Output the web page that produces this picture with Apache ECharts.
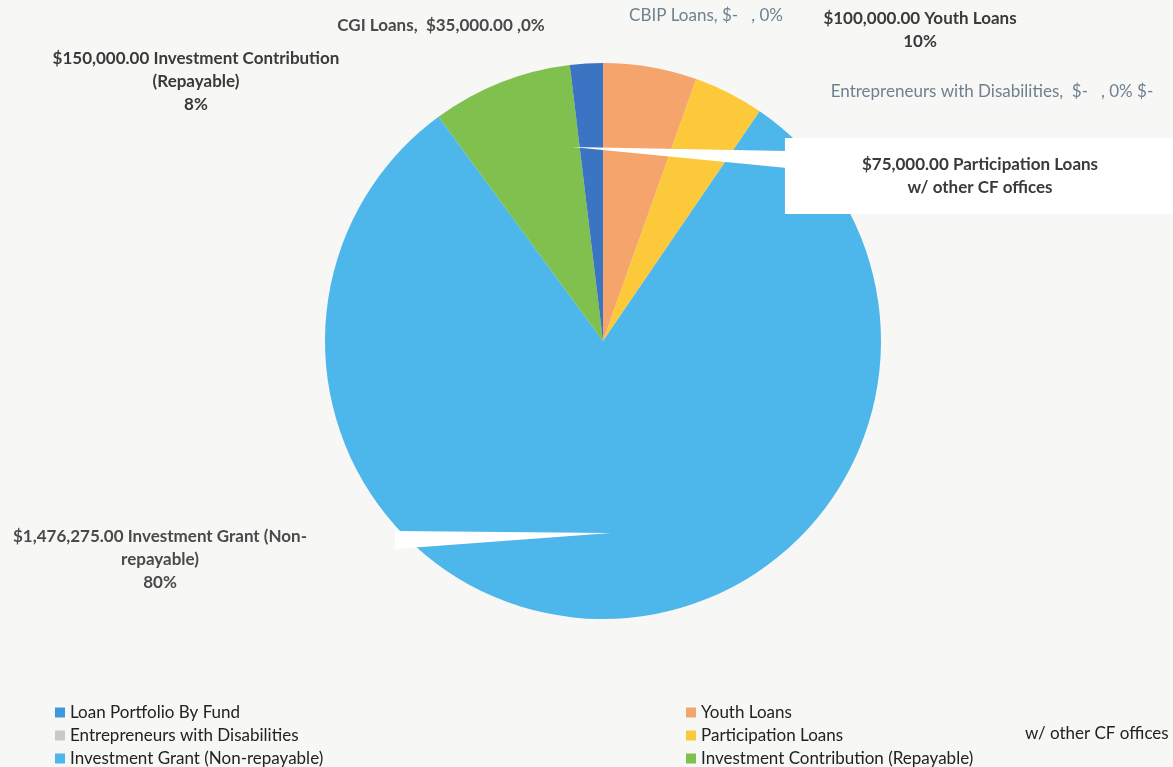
<!DOCTYPE html>
<html><head><meta charset="utf-8">
<script src="https://cdn.jsdelivr.net/npm/echarts@6/dist/echarts.min.js"></script>
<style>html,body{margin:0;padding:0;background:#f7f7f5}#c{width:1173px;height:767px}</style>
</head><body><div id="c"></div>
<script>
// ---- data ----
const categories = ['Youth Loans','Entrepreneurs with Disabilities','Participation Loans','Investment Grant (Non-repayable)','Investment Contribution (Repayable)','CGI Loans','CBIP Loans','Loan Portfolio By Fund'];
const values = [100000, 0, 75000, 1476275, 150000, 35000, 0, 0];
const pctLabels = ['10%','0%','','80%','8%','0%','0%',''];
const labelTemplates = [
  '{v} Youth Loans\n{p}',
  'Entrepreneurs with Disabilities,  {v}, {p} $-',
  '{v} Participation Loans\nw/ other CF offices',
  '{v} Investment Grant (Non-\nrepayable)\n{p}',
  '{v} Investment Contribution\n(Repayable)\n{p}',
  'CGI Loans,  {v} ,{p}',
  'CBIP Loans, {v}, {p}',
  ''
];
const legendLeft = ['Loan Portfolio By Fund','Entrepreneurs with Disabilities','Investment Grant (Non-repayable)'];
const legendRight = ['Youth Loans','Participation Loans','Investment Contribution (Repayable)'];
const colors = ['#f5a46c','#c9c9c9','#fcc93a','#4db6ea','#7fc04f','#3a74c2','#9e9e9e','#3f97de'];

// ---- layout / style ----
const FONT = 'Lato';
const FS = 17;
const labelPos = [[920,30],[992,92],[980,176],[160,560],[196,82],[441,26],[706,16],[0,0]];
const strong = {color:'#3a3a3a', fontWeight:'bold'};
const light = {color:'#6f8090', fontWeight:'normal'};
const labelStyles = [strong, light, Object.assign({}, strong, {backgroundColor:'#ffffff', padding:[15,77]}), {color:'#4a4a4a', fontWeight:'bold'}, strong, {color:'#4a4a4a', fontWeight:'bold'}, light, {show:false}];

function money(v){ return v > 0 ? '$' + v.toLocaleString('en-US',{minimumFractionDigits:2, maximumFractionDigits:2}) : '$-   '; }

const data = categories.map((n,i)=>({
  name:n, value:values[i],
  itemStyle:{color:colors[i]},
  label:Object.assign({}, labelStyles[i])
}));

const legendText = {fontFamily:FONT, fontSize:FS, color:'#222', lineHeight:16};
const chart = echarts.init(document.getElementById('c'));
chart.setOption({
  backgroundColor:'#f7f7f5',
  animation:false,
  textStyle:{fontFamily:FONT},
  legend:[
    {data:legendLeft, orient:'vertical', left:55, top:704, height:70, padding:0, itemWidth:10, itemHeight:10, itemGap:6, itemTextGap:4, icon:'rect', textStyle:legendText},
    {data:legendRight, orient:'vertical', left:686, top:704, height:70, padding:0, itemWidth:10, itemHeight:10, itemGap:6, itemTextGap:4, icon:'rect', textStyle:legendText}
  ],
  graphic:[
    {type:'polygon', z:100, shape:{points:[[572,147],[787,151],[787,168]]}, style:{fill:'#ffffff'}},
    {type:'polygon', z:100, shape:{points:[[395,531],[611,533],[395,549]]}, style:{fill:'#ffffff'}},
    {type:'text', z:100, left:1025, top:725, style:{text:'w/ other CF offices', font:FS+'px '+FONT, fill:'#222'}}
  ],
  series:[{
    type:'pie',
    center:[603,341],
    radius:278,
    startAngle:90,
    clockwise:true,
    avoidLabelOverlap:false,
    data:data,
    label:{show:true, position:'outside', fontFamily:FONT, fontSize:FS, lineHeight:23, align:'center',
      formatter:p=>labelTemplates[p.dataIndex].replace('{v}', money(values[p.dataIndex])).replace('{p}', pctLabels[p.dataIndex])},
    labelLine:{show:false},
    labelLayout:function(params){
      const q = labelPos[params.dataIndex];
      return {x:q[0], y:q[1], align:'center', verticalAlign:'middle', hideOverlap:false, moveOverlap:null};
    },
    emphasis:{disabled:true}
  }]
});
</script></body></html>
